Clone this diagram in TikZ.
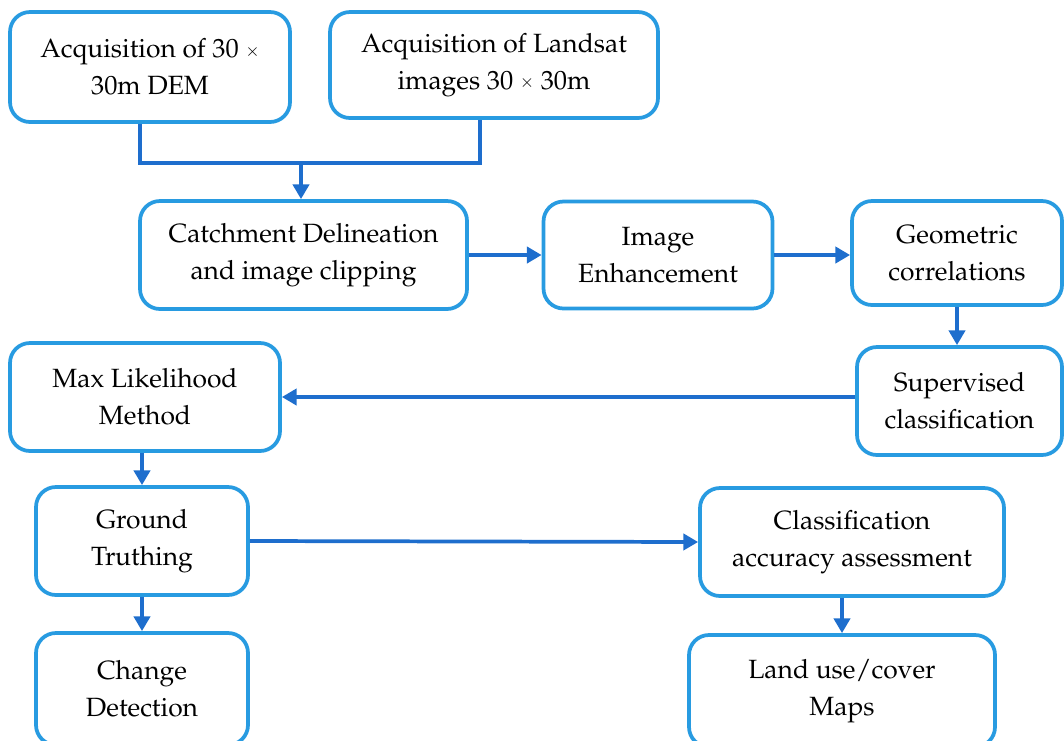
\documentclass[tikz,border=0pt]{standalone}
\usepackage[T1]{fontenc}
\usepackage{mathpazo}
\usepackage{graphicx}
\usetikzlibrary{arrows.meta}
\definecolor{boxblue}{RGB}{40,155,225}
\definecolor{arrblue}{RGB}{30,110,205}
\newcommand{\smtimes}{\raisebox{0.1ex}{\scalebox{0.65}{$\times$}}}
\tikzset{
  box/.style={draw=boxblue, line width=2.8pt, rounded corners=15pt, fill=white,
    align=center, inner sep=2pt, font=\fontsize{19.8}{27.5}\selectfont,
    execute at begin node={\rule{0pt}{20pt}}},
  conn/.style={draw=arrblue, line width=2.8pt},
  arr/.style={conn, -{Triangle[length=11pt,width=12pt]}}
}
\begin{document}
\begin{tikzpicture}[x=0.75pt,y=-0.75pt]
\useasboundingbox (0,0) rectangle (1064,740);
\node[box, minimum width=210pt, minimum height=82.5pt] (b1) at (150,67) {Acquisition of 30 \smtimes\\30m DEM};
\node[box, minimum width=246pt, minimum height=79.5pt] (b2) at (494,65) {Acquisition of Landsat\\images 30 \smtimes\ 30m};
\node[box, minimum width=245.25pt, minimum height=81pt] (b3) at (303.5,255) {Catchment Delineation\\and image clipping};
\node[box, minimum width=171.75pt, minimum height=80.25pt] (b4) at (658,255) {Image\\Enhancement};
\node[box, minimum width=157.5pt, minimum height=78pt] (b5) at (957,253) {Geometric\\correlations};
\node[box, minimum width=153.75pt, minimum height=81pt] (b6) at (959.5,401) {Supervised\\classification};
\node[box, minimum width=202.5pt, minimum height=81pt] (b7) at (145,397) {Max Likelihood\\Method};
\node[box, minimum width=159pt, minimum height=81pt] (b8) at (142,541) {Ground\\Truthing};
\node[box, minimum width=159pt, minimum height=84pt] (b9) at (142,689) {Change\\Detection};
\node[box, minimum width=228pt, minimum height=81pt] (b10) at (852,542) {Classification\\accuracy assessment};
\node[box, minimum width=229.5pt, minimum height=84pt] (b11) at (842,691) {Land use/cover\\Maps};
\coordinate (j1) at (140,163);
\coordinate (j2) at (480,163);
\coordinate (j3) at (301,163);
\draw[conn] (j1 |- b1.south) -- (j1) -- (j2) -- (j2 |- b2.south);
\draw[arr] (j3) -- (j3 |- b3.north);
\draw[arr] (b3.east) -- (b4.west);
\draw[arr] (b4.east) -- (b4.east -| b5.west);
\draw[arr] (b5.south) -- (b5.south |- b6.north);
\draw[arr] (b7.east -| b6.west) -- (b7.east);
\draw[arr] (b8.north |- b7.south) -- (b8.north);
\draw[arr] (b8.east) -- (b10.west);
\draw[arr] (b8.south) -- (b9.north);
\draw[arr] (b11.north |- b10.south) -- (b11.north);
\end{tikzpicture}
\end{document}
